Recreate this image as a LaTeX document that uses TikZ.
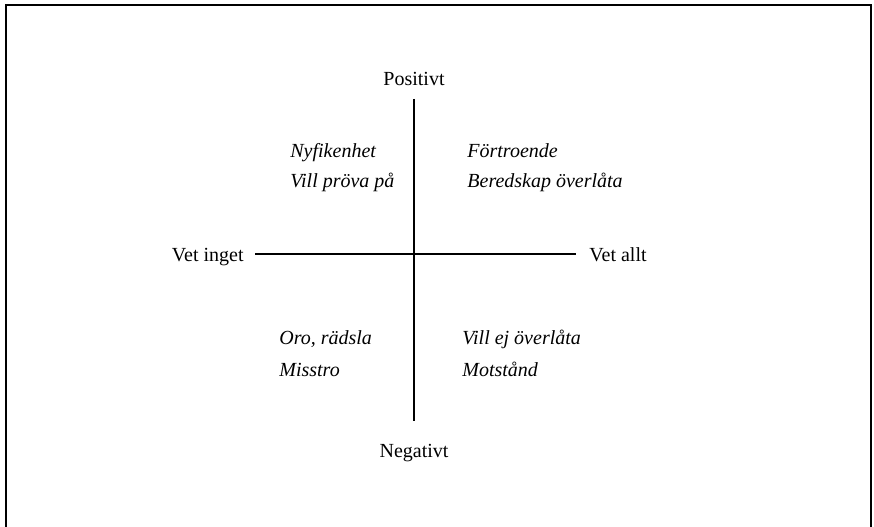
\documentclass[tikz,border=0pt]{standalone}
\usepackage{fontspec}
\setmainfont{Liberation Serif}
\begin{document}
\begin{tikzpicture}[x=1bp,y=-1bp,thick,
	axislabel/.style={inner sep=0pt,font=\fontsize{20bp}{24bp}\selectfont},
	quadlabel/.style={inner sep=0pt,anchor=base west,font=\fontsize{20bp}{24bp}\selectfont\itshape}]
	\useasboundingbox (0,0) rectangle (874,527);
	% frame
	\draw[line width=2bp] (5.5,540) -- (5.5,5.5) -- (871,5.5) -- (871,540);
	% axes
	\coordinate (top) at (414,99);
	\coordinate (bottom) at (414,421);
	\coordinate (left) at (255,254);
	\coordinate (right) at (576,254);
	\draw[line width=1.3bp] (top) -- (bottom);
	\draw[line width=1.3bp] (left) -- (right);
	% axis labels
	\node[axislabel,anchor=base] (pos) at (414,86) {Positivt};
	\node[axislabel,anchor=base] (neg) at (414,457) {Negativt};
	\node[axislabel,anchor=base east] (none) at (244,262) {Vet inget};
	\node[axislabel,anchor=base west] (all) at (589,262) {Vet allt};
	% quadrants
	\node[quadlabel] (q1a) at (290,158) {Nyfikenhet};
	\node[quadlabel] (q1b) at (290,188) {Vill pröva på};
	\node[quadlabel] (q2a) at (467,158) {Förtroende};
	\node[quadlabel] (q2b) at (467,188) {Beredskap överlåta};
	\node[quadlabel] (q3a) at (279,345) {Oro, rädsla};
	\node[quadlabel] (q3b) at (279,376) {Misstro};
	\node[quadlabel] (q4a) at (462,345) {Vill ej överlåta};
	\node[quadlabel] (q4b) at (462,376) {Motstånd};
\end{tikzpicture}
\end{document}
